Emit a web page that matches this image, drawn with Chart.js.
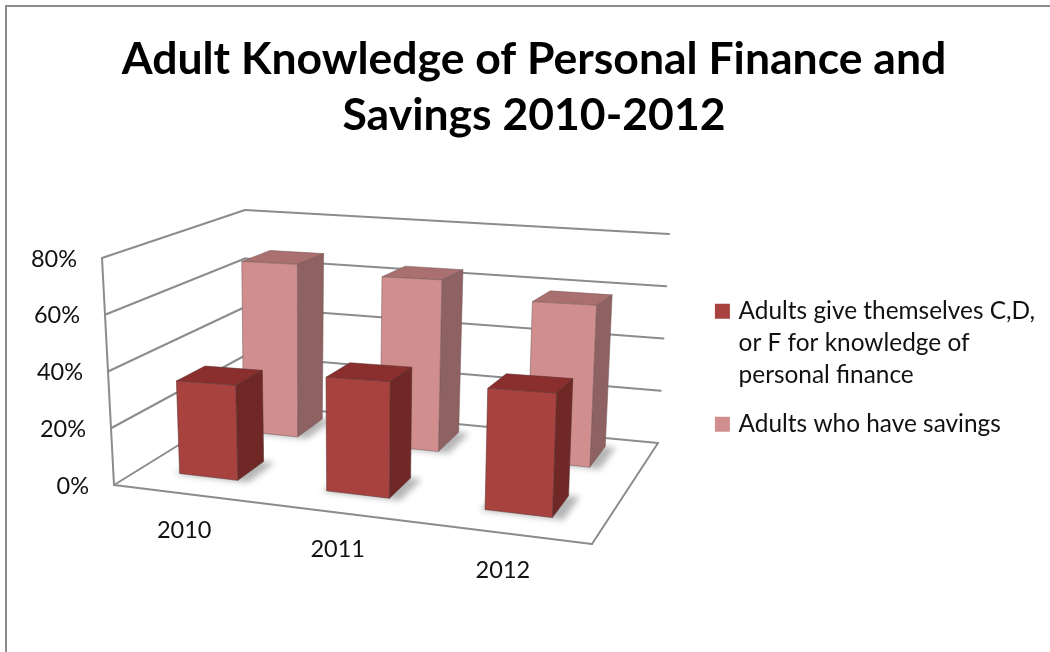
<!DOCTYPE html>
<html>
<head>
<meta charset="utf-8">
<title>Adult Knowledge of Personal Finance and Savings</title>
<script src="https://cdn.jsdelivr.net/npm/chart.js@4"></script>
<style>
    html, body { margin: 0; padding: 0; background: #fff; }
    #wrap { position: relative; width: 1050px; height: 652px; overflow: hidden; }
    #frame {
        position: absolute; left: 5px; top: 5px; right: -5px; bottom: -5px;
        border-left: 2px solid #8c8c8c; border-top: 2px solid #8c8c8c;
    }
</style>
</head>
<body>
<div id="wrap">
    <canvas id="financeChart" width="1050" height="652"></canvas>
    <div id="frame"></div>
</div>
<script>
const categories = ["2010", "2011", "2012"];
const lowGradeShare = [0.33, 0.38, 0.38];
const savingsShare = [0.66, 0.63, 0.57];
const lowGradeLabel = ["Adults give themselves C,D,", "or F for knowledge of", "personal finance"];
const savingsLabel = "Adults who have savings";

const GRID_COLOR = "#8c8c8c";
const TEXT_FONT = "23.5px Lato";
const LEGEND_TOP = 282;

// Pixel corners of the 3D plot box, floor and 80% level
const box = {
    floor: { fl: [114, 485], fr: [592, 544], bl: [245, 404], br: [658, 443] },
    roof: { fl: [102, 258], fr: [603, 262], bl: [245, 210], br: [669, 234] }
};

function lerp(a, b, k) {
    return a + (b - a) * k;
}

function corner(level, u, d, i) {
    return lerp(lerp(level.fl[i], level.fr[i], u), lerp(level.bl[i], level.br[i], u), d);
}

// u runs along the categories, d front to back, t floor to top of the axis
function project(u, d, t) {
    return [
        lerp(corner(box.floor, u, d, 0), corner(box.roof, u, d, 0), t),
        lerp(corner(box.floor, u, d, 1), corner(box.roof, u, d, 1), t)
    ];
}

function poly(ctx, points, fill, stroke) {
    ctx.beginPath();
    points.forEach((p, i) => i ? ctx.lineTo(p[0], p[1]) : ctx.moveTo(p[0], p[1]));
    ctx.closePath();
    if (fill) {
        ctx.fillStyle = fill;
        ctx.fill();
    }
    if (stroke) {
        ctx.strokeStyle = stroke;
        ctx.lineWidth = 1;
        ctx.stroke();
    }
}

function line(ctx, a, b) {
    ctx.beginPath();
    ctx.moveTo(a[0], a[1]);
    ctx.lineTo(b[0], b[1]);
    ctx.stroke();
}

const heightOf = (scale, value) =>
    (scale.getPixelForValue(0) - scale.getPixelForValue(value)) /
    (scale.getPixelForValue(0) - scale.getPixelForValue(scale.max));

// small bend so the middle category sits a little left, as perspective does
function acrossOf(scale, px) {
    const n = (px - scale.left) / scale.width;
    return n - 0.032 + 0.11 * (n - 0.5) * (n - 0.5);
}

const box3d = {
    id: "box3d",

    afterLayout(chart) {
        chart.legend.top = LEGEND_TOP;
    },

    // walls and floor go under the bars
    beforeDatasetsDraw(chart) {
        const ctx = chart.ctx;
        const y = chart.scales.y;
        ctx.save();
        ctx.strokeStyle = GRID_COLOR;
        ctx.lineWidth = 2;
        ctx.lineCap = "round";
        y.ticks.forEach(tick => {
            const t = heightOf(y, tick.value);
            line(ctx, project(0, 0, t), project(0, 1, t));
            line(ctx, project(0, 1, t), project(1, 1, t));
        });
        line(ctx, project(0, 0, 0), project(0, 0, 1));
        line(ctx, project(0, 0, 0), project(1, 0, 0));
        line(ctx, project(1, 0, 0), project(1, 1, 0));
        ctx.restore();

        // back series first so the front one covers it
        for (let i = chart.data.datasets.length - 1; i >= 0; i--) {
            drawSeries(chart, i);
        }
        return false;
    },

    afterDraw(chart) {
        const ctx = chart.ctx;
        const { x, y } = chart.scales;
        ctx.save();
        ctx.font = TEXT_FONT;
        ctx.fillStyle = "#111";
        ctx.textBaseline = "middle";

        ctx.textAlign = "right";
        y.ticks.forEach(tick => {
            const p = project(0, 0, heightOf(y, tick.value));
            ctx.fillText(tick.label, p[0] - 25, p[1] + 1);
        });

        ctx.textAlign = "center";
        categories.forEach((name, i) => {
            const p = project(acrossOf(x, x.getPixelForValue(i)), 0, 0);
            ctx.fillText(name, p[0], p[1] + 37);
        });
        ctx.restore();
    }
};

function drawSeries(chart, index) {
    const ctx = chart.ctx;
    const { x, y } = chart.scales;
    const set = chart.data.datasets[index];
    const [d0, d1] = set.depth;

    chart.getDatasetMeta(index).data.forEach((bar, i) => {
        const half = bar.width / 2;
        const u0 = acrossOf(x, bar.x - half);
        const u1 = acrossOf(x, bar.x + half);
        const t = heightOf(y, set.data[i]);

        const front = [project(u0, d0, t), project(u1, d0, t), project(u1, d0, 0), project(u0, d0, 0)];
        const side = [project(u1, d0, t), project(u1, d1, t), project(u1, d1, 0), project(u1, d0, 0)];
        const top = [project(u0, d0, t), project(u0, d1, t), project(u1, d1, t), project(u1, d0, t)];

        // soft contact shadow on the floor
        ctx.save();
        ctx.filter = "blur(3px)";
        poly(ctx, [
            project(u0 - 0.008, d0 - 0.01, 0),
            project(u1 + 0.025, d0 - 0.01, 0),
            project(u1 + 0.025, d1, 0),
            project(u0, d1, 0)
        ], "rgba(90,90,90,0.45)");
        ctx.restore();

        poly(ctx, top, set.topColor, set.edgeColor);
        poly(ctx, side, set.sideColor, set.edgeColor);
        poly(ctx, front, set.backgroundColor, set.edgeColor);
    });
}

new Chart(document.getElementById("financeChart"), {
    type: "bar",
    plugins: [box3d],
    data: {
        labels: categories,
        datasets: [
            {
                label: lowGradeLabel,
                data: lowGradeShare,
                backgroundColor: "#a8423e",
                borderColor: "#a8423e",
                borderWidth: 7,
                topColor: "#8a2f2d",
                sideColor: "#6f2826",
                edgeColor: "rgba(90,50,50,0.55)",
                depth: [0.2, 0.42]
            },
            {
                label: savingsLabel,
                data: savingsShare,
                backgroundColor: "#d08f8e",
                borderColor: "#d08f8e",
                borderWidth: 7,
                topColor: "#a9706f",
                sideColor: "#8e6163",
                edgeColor: "rgba(120,90,90,0.55)",
                depth: [0.71, 0.92]
            }
        ]
    },
    options: {
        responsive: false,
        animation: false,
        grouped: false,
        barPercentage: 0.405,
        categoryPercentage: 1,
        layout: { padding: { left: 23, right: 5, top: 0, bottom: 167 } },
        scales: {
            x: { display: false },
            y: {
                display: false,
                min: 0,
                max: 0.8,
                ticks: { stepSize: 0.2, callback: v => Math.round(v * 100) + "%" }
            }
        },
        plugins: {
            tooltip: { enabled: false },
            title: {
                display: true,
                text: ["Adult Knowledge of Personal Finance and", "Savings 2010-2012"],
                color: "#000",
                font: { family: "Lato", weight: "bold", size: 44.5, lineHeight: "56px" },
                padding: { top: 32, bottom: 113 }
            },
            legend: {
                position: "right",
                align: "start",
                onClick: null,
                labels: {
                    color: "#111",
                    boxWidth: 8,
                    boxHeight: 8,
                    padding: 17,
                    font: { family: "Lato", size: 24.4, lineHeight: "32px" }
                }
            }
        }
    }
});
</script>
</body>
</html>
